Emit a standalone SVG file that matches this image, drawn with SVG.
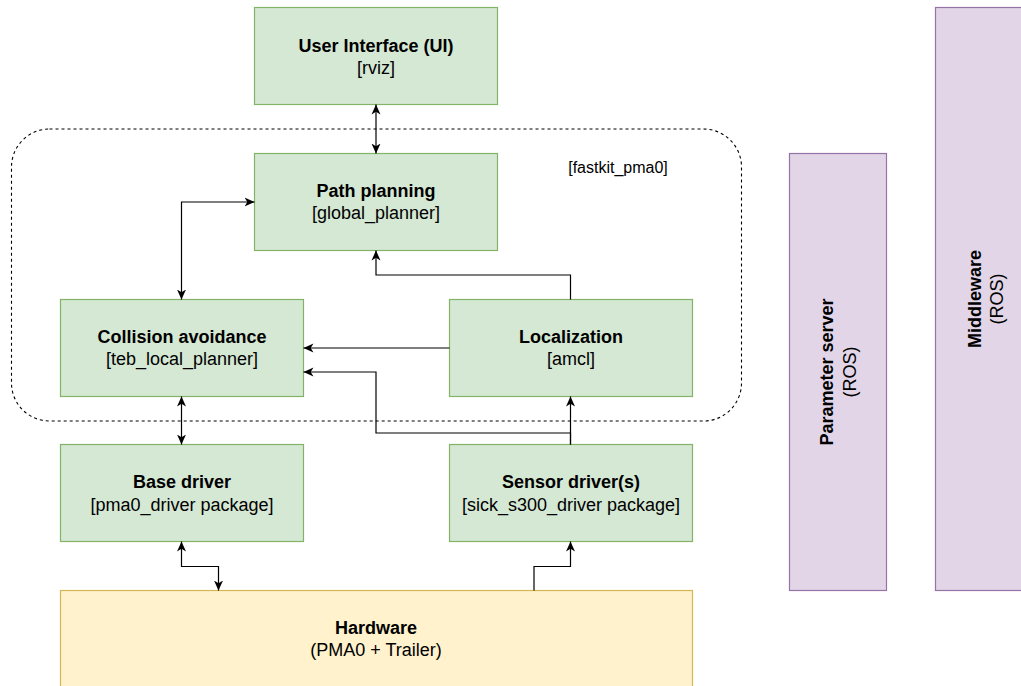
<svg xmlns="http://www.w3.org/2000/svg" width="1021" height="686" viewBox="0 0 1021 686">
<style>
.g{fill:#d5e8d4;stroke:#82b366;stroke-width:1.2}
.y{fill:#fff2cc;stroke:#d6b656;stroke-width:1.2}
.p{fill:#e1d5e7;stroke:#9673a6;stroke-width:1.2}
text{font-family:"Liberation Sans",Arial,sans-serif;font-size:18px;fill:#000;text-anchor:middle}
.b{font-weight:bold}
.c{fill:none;stroke:#000;stroke-width:1.2}
</style>
<defs>
<marker id="a" markerUnits="userSpaceOnUse" markerWidth="12" markerHeight="12" refX="10" refY="5" orient="auto-start-reverse" viewBox="0 0 12 10">
<path d="M0,0.5 L10,5 L0,9.5 L2.8,5 Z" fill="#000"/>
</marker>
</defs>
<g id="group-fastkit">
<rect x="11.5" y="129" width="730" height="292" rx="38" ry="38" fill="none" stroke="#000" stroke-width="1.1" stroke-dasharray="3 3"/>
<text x="618" y="173" style="font-size:16px">[fastkit_pma0]</text>
</g>
<g id="node-ui">
<rect class="g" x="254.5" y="7.5" width="243" height="97"/>
<text class="b" x="376" y="51.5">User Interface (UI)</text>
<text x="376" y="74">[rviz]</text>
</g>
<g id="node-path">
<rect class="g" x="254.5" y="153.5" width="243" height="97"/>
<text class="b" x="376" y="197">Path planning</text>
<text x="376" y="219">[global_planner]</text>
</g>
<g id="node-collision">
<rect class="g" x="60.5" y="299.5" width="243" height="97"/>
<text class="b" x="182" y="342.5">Collision avoidance</text>
<text x="182" y="365">[teb_local_planner]</text>
</g>
<g id="node-localization">
<rect class="g" x="449.5" y="299.5" width="243" height="97"/>
<text class="b" x="571" y="342.5">Localization</text>
<text x="571" y="365">[amcl]</text>
</g>
<g id="node-base">
<rect class="g" x="60.5" y="444.5" width="243" height="97"/>
<text class="b" x="182" y="488">Base driver</text>
<text x="182" y="510.5">[pma0_driver package]</text>
</g>
<g id="node-sensor">
<rect class="g" x="449.5" y="444.5" width="243" height="97"/>
<text class="b" x="571" y="488">Sensor driver(s)</text>
<text x="571" y="510.5">[sick_s300_driver package]</text>
</g>
<g id="node-hardware">
<rect class="y" x="60.5" y="590.5" width="632" height="97"/>
<text class="b" x="376" y="634">Hardware</text>
<text x="376" y="656">(PMA0 + Trailer)</text>
</g>
<g id="node-param">
<rect class="p" x="789.5" y="153.5" width="97" height="437"/>
<text class="b" transform="translate(833,372) rotate(-90)">Parameter server</text>
<text transform="translate(855.5,372) rotate(-90)">(ROS)</text>
</g>
<g id="node-middleware">
<rect class="p" x="935.5" y="7.5" width="97" height="583"/>
<text class="b" transform="translate(980.5,299) rotate(-90)">Middleware</text>
<text transform="translate(1002.5,299) rotate(-90)">(ROS)</text>
</g>
<g id="connectors">
<path class="c" d="M376,104.5 V153.5" marker-start="url(#a)" marker-end="url(#a)"/>
<path class="c" d="M254.5,202 H181.5 V299.5" marker-start="url(#a)" marker-end="url(#a)"/>
<path class="c" d="M570.5,299.5 V275 H376 V250.5" marker-end="url(#a)"/>
<path class="c" d="M449.5,348 H303.5" marker-end="url(#a)"/>
<path class="c" d="M570.5,444.5 V433 H376 V372 H303.5" marker-end="url(#a)"/>
<path class="c" d="M570.5,444.5 V396.5" marker-end="url(#a)"/>
<path class="c" d="M181.5,396.5 V444.5" marker-start="url(#a)" marker-end="url(#a)"/>
<path class="c" d="M181.5,541.5 V566.5 H218.5 V590.5" marker-start="url(#a)" marker-end="url(#a)"/>
<path class="c" d="M534,590.5 V566.5 H570.5 V541.5" marker-end="url(#a)"/>
</g>
</svg>
